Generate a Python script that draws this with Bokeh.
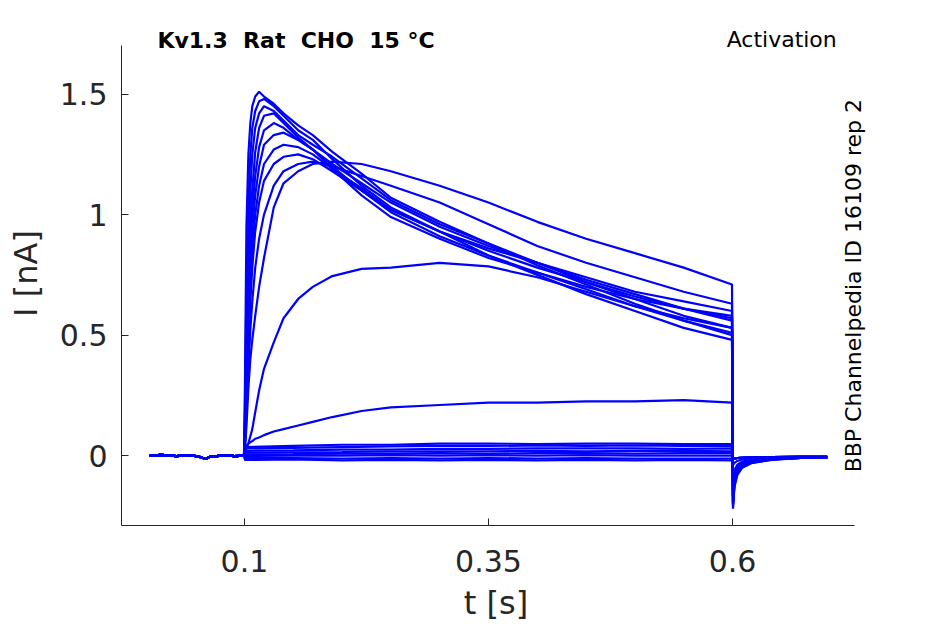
import math
from bokeh.plotting import figure
from bokeh.models import Range1d, FixedTicker, Label, NumeralTickFormatter
from bokeh.embed import file_html
from bokeh.resources import INLINE

# ---------------- data ----------------
x_ticks = [0.1, 0.35, 0.6]
y_ticks = [0, 0.5, 1, 1.5]

# baseline before the voltage step (shared by all sweeps)
t_pre = [0.003, 0.015, 0.03, 0.045, 0.055, 0.06, 0.065, 0.08, 0.09, 0.0995]
i_pre = [0.0, 0.003, -0.002, 0.002, -0.006, -0.014, -0.004, 0.001, -0.002, 0.0]

# during the step, large / medium sweeps
t_step = [0.1005, 0.102, 0.104, 0.106, 0.108, 0.111, 0.115, 0.12, 0.13, 0.14, 0.155,
          0.17, 0.19, 0.22, 0.25, 0.3, 0.35, 0.4, 0.45, 0.5, 0.55, 0.5995]
sweep_b1 = [0.3, 0.95, 1.25, 1.38, 1.45, 1.49, 1.51, 1.49, 1.46, 1.42, 1.37, 1.33, 1.26, 1.17, 1.07, 0.97, 0.88, 0.79, 0.71, 0.63, 0.56, 0.50]
sweep_b2 = [0.2, 0.7, 1.05, 1.25, 1.36, 1.43, 1.47, 1.48, 1.45, 1.41, 1.35, 1.31, 1.23, 1.12, 1.03, 0.93, 0.83, 0.75, 0.67, 0.60, 0.53, 0.48]
sweep_b3 = [0.15, 0.55, 0.9, 1.1, 1.25, 1.36, 1.42, 1.45, 1.43, 1.39, 1.33, 1.29, 1.24, 1.15, 1.06, 0.96, 0.88, 0.80, 0.72, 0.65, 0.58, 0.53]
sweep_b4 = [0.12, 0.45, 0.78, 0.98, 1.1, 1.26, 1.36, 1.41, 1.42, 1.38, 1.32, 1.27, 1.20, 1.10, 1.01, 0.91, 0.83, 0.76, 0.69, 0.62, 0.56, 0.51]
sweep_b5 = [0.1, 0.38, 0.68, 0.88, 1.02, 1.16, 1.28, 1.35, 1.38, 1.36, 1.31, 1.27, 1.21, 1.13, 1.05, 0.95, 0.87, 0.80, 0.73, 0.67, 0.61, 0.56]
sweep_b6 = [0.08, 0.32, 0.6, 0.8, 0.94, 1.08, 1.2, 1.29, 1.33, 1.34, 1.31, 1.27, 1.19, 1.08, 0.99, 0.90, 0.82, 0.76, 0.70, 0.65, 0.61, 0.58]
sweep_b7 = [0.06, 0.26, 0.52, 0.72, 0.86, 1.0, 1.12, 1.21, 1.27, 1.29, 1.28, 1.25, 1.19, 1.11, 1.02, 0.93, 0.85, 0.78, 0.72, 0.66, 0.61, 0.57]
sweep_b8 = [0.05, 0.22, 0.45, 0.64, 0.78, 0.93, 1.05, 1.14, 1.21, 1.24, 1.25, 1.23, 1.18, 1.10, 1.02, 0.93, 0.86, 0.80, 0.74, 0.68, 0.64, 0.60]
sweep_h2 = [0.04, 0.17, 0.36, 0.52, 0.64, 0.78, 0.9, 1.0, 1.12, 1.18, 1.21, 1.22, 1.20, 1.16, 1.12, 1.05, 0.96, 0.87, 0.80, 0.74, 0.68, 0.63]
sweep_h1 = [0.03, 0.12, 0.28, 0.4, 0.48, 0.58, 0.7, 0.82, 1.03, 1.13, 1.18, 1.21, 1.22, 1.21, 1.18, 1.12, 1.05, 0.97, 0.90, 0.84, 0.78, 0.71]
sweep_m = [0.01, 0.03, 0.05, 0.08, 0.11, 0.18, 0.27, 0.36, 0.47, 0.57, 0.65, 0.70, 0.745, 0.775, 0.78, 0.80, 0.785, 0.74, 0.68, 0.62, 0.57, 0.53]
sweep_l = [0.03, 0.04, 0.05, 0.055, 0.06, 0.07, 0.075, 0.085, 0.10, 0.11, 0.125, 0.14, 0.16, 0.185, 0.20, 0.21, 0.22, 0.22, 0.225, 0.225, 0.23, 0.22]

# during the step, sweeps that stay near zero
t_flat = [0.1005, 0.15, 0.2, 0.25, 0.3, 0.35, 0.4, 0.45, 0.5, 0.55, 0.5995]
sweep_z1 = [0.035, 0.04, 0.045, 0.045, 0.05, 0.05, 0.048, 0.05, 0.05, 0.048, 0.048]
sweep_z2 = [0.03, 0.032, 0.035, 0.038, 0.04, 0.04, 0.042, 0.04, 0.042, 0.04, 0.04]
sweep_z3 = [0.02, 0.022, 0.025, 0.025, 0.028, 0.028, 0.03, 0.03, 0.03, 0.028, 0.03]
sweep_z4 = [0.012, 0.014, 0.015, 0.017, 0.018, 0.018, 0.02, 0.018, 0.02, 0.02, 0.018]
sweep_z5 = [0.005, 0.006, 0.008, 0.008, 0.01, 0.008, 0.01, 0.01, 0.008, 0.01, 0.01]
sweep_z6 = [-0.002, 0.0, 0.0, 0.002, 0.0, 0.002, 0.0, 0.002, 0.0, 0.0, 0.0]
sweep_z7 = [-0.01, -0.01, -0.012, -0.01, -0.012, -0.01, -0.012, -0.01, -0.012, -0.012, -0.012]
sweep_z8 = [-0.018, -0.016, -0.02, -0.018, -0.02, -0.018, -0.02, -0.018, -0.02, -0.018, -0.02]

# tail currents after the step
t_tail = [0.6005, 0.602, 0.605, 0.61, 0.62, 0.64, 0.67, 0.697]
tail_b1 = [-0.22, -0.13, -0.08, -0.05, -0.03, -0.018, -0.01, -0.01]
tail_b2 = [-0.21, -0.12, -0.075, -0.048, -0.03, -0.017, -0.01, -0.01]
tail_b3 = [-0.2, -0.12, -0.07, -0.045, -0.028, -0.016, -0.01, -0.008]
tail_b4 = [-0.2, -0.11, -0.07, -0.045, -0.027, -0.015, -0.009, -0.008]
tail_b5 = [-0.19, -0.11, -0.065, -0.042, -0.026, -0.015, -0.009, -0.008]
tail_b6 = [-0.18, -0.1, -0.06, -0.04, -0.025, -0.014, -0.008, -0.008]
tail_b7 = [-0.17, -0.1, -0.06, -0.038, -0.024, -0.013, -0.008, -0.007]
tail_b8 = [-0.16, -0.09, -0.055, -0.036, -0.022, -0.012, -0.008, -0.007]
tail_h2 = [-0.15, -0.085, -0.05, -0.033, -0.02, -0.011, -0.007, -0.007]
tail_h1 = [-0.14, -0.08, -0.048, -0.03, -0.019, -0.01, -0.007, -0.006]
tail_m = [-0.1, -0.06, -0.038, -0.025, -0.016, -0.009, -0.006, -0.006]
tail_l = [-0.04, -0.03, -0.022, -0.016, -0.011, -0.007, -0.005, -0.005]
tail_z = [-0.015, -0.012, -0.01, -0.009, -0.008, -0.006, -0.005, -0.005]

# the title has double gaps between its words (a plain space + a no-break space,
# so that the SVG text does not collapse them)
title_text = "Kv1.3 \u00a0Rat \u00a0CHO \u00a015 °C"
protocol_text = "Activation"
source_text = "BBP Channelpedia ID 16109 rep 2"
x_label = "t [s]"
y_label = "I [nA]"

# ---------------- figure ----------------
FONT = "DejaVu Sans"
AX = "#262626"
X_AXIS_SPAN = (-0.026, 0.725)
Y_AXIS_SPAN = (-0.29, 1.70)

p = figure(width=929, height=630, output_backend="svg", toolbar_location=None,
           x_range=Range1d(-0.026, 0.7414), y_range=Range1d(-0.29, 1.8013),
           min_border_left=121, min_border_right=59, min_border_top=21,
           min_border_bottom=105)
p.outline_line_color = None
p.grid.visible = False
p.background_fill_color = "white"
p.border_fill_color = "white"

big = [(t_step, sweep_b1, tail_b1), (t_step, sweep_b2, tail_b2), (t_step, sweep_b3, tail_b3),
       (t_step, sweep_b4, tail_b4), (t_step, sweep_b5, tail_b5), (t_step, sweep_b6, tail_b6),
       (t_step, sweep_b7, tail_b7), (t_step, sweep_b8, tail_b8), (t_step, sweep_h2, tail_h2),
       (t_step, sweep_h1, tail_h1), (t_step, sweep_m, tail_m), (t_step, sweep_l, tail_l)]
small = [sweep_z1, sweep_z2, sweep_z3, sweep_z4, sweep_z5, sweep_z6, sweep_z7, sweep_z8]
sweeps = big + [(t_flat, z, tail_z) for z in small]

for ts, vals, tail in reversed(sweeps):
    xs = t_pre + ts + t_tail
    ys = i_pre + vals + tail
    p.line(xs, ys, line_color="#0000ff", line_width=2.2)

for ax in (p.xaxis[0], p.yaxis[0]):
    ax.axis_line_color = AX
    ax.major_tick_line_color = AX
    ax.minor_tick_line_color = None
    ax.major_tick_in = 7
    ax.major_tick_out = 0
    ax.major_label_text_font = FONT
    ax.major_label_text_font_size = "30px"
    ax.major_label_text_color = AX
    ax.axis_label_text_font = FONT
    ax.axis_label_text_font_size = "32px"
    ax.axis_label_text_font_style = "normal"
    ax.axis_label_text_color = AX
    ax.formatter = NumeralTickFormatter(format="0.[00]")

p.xaxis.ticker = FixedTicker(ticks=x_ticks)
p.yaxis.ticker = FixedTicker(ticks=y_ticks)
p.xaxis.bounds = X_AXIS_SPAN
p.yaxis.bounds = Y_AXIS_SPAN
p.xaxis.axis_label = x_label
p.yaxis.axis_label = y_label
p.xaxis.major_label_standoff = 24
p.yaxis.major_label_standoff = 14
p.xaxis.axis_label_standoff = 9
p.yaxis.axis_label_standoff = 12

p.add_layout(Label(x=0.0108, y=1.724, text=title_text, text_font=FONT,
                   text_font_style="bold", text_font_size="22px",
                   text_align="left", text_baseline="alphabetic", text_color="black"))
p.add_layout(Label(x=0.594, y=1.728, text=protocol_text, text_font=FONT,
                   text_font_size="22px", text_align="left",
                   text_baseline="alphabetic", text_color="black"))
p.add_layout(Label(x=0.724, y=0.705, text=source_text, text_font=FONT,
                   text_font_size="22px", angle=math.pi / 2, text_align="center",
                   text_baseline="alphabetic", text_color="black"))

open("out.html", "w").write(file_html(p, INLINE))
